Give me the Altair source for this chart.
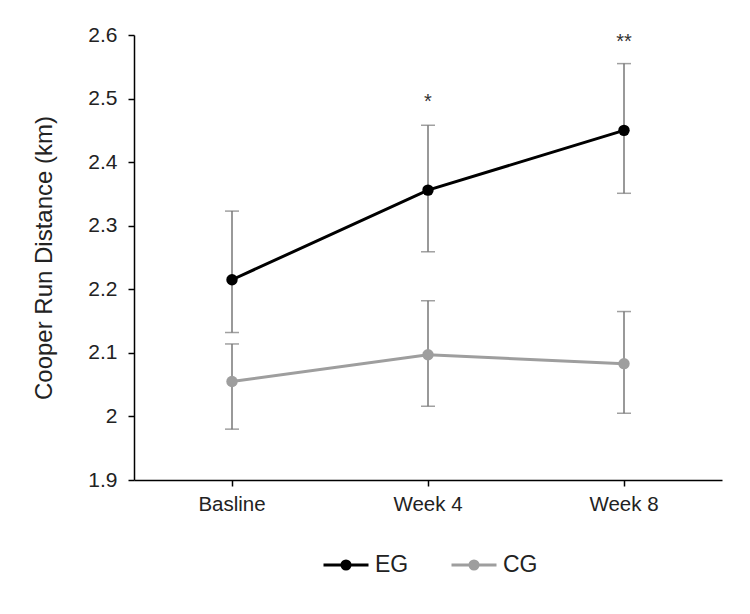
import altair as alt
import pandas as pd

# ---- data ----
times = ["Basline", "Week 4", "Week 8"]
groups = ["EG", "CG"]
eg_mean = [2.215, 2.356, 2.450]
eg_low = [2.132, 2.259, 2.351]
eg_high = [2.323, 2.458, 2.555]
cg_mean = [2.055, 2.097, 2.083]
cg_low = [1.980, 2.016, 2.005]
cg_high = [2.114, 2.182, 2.165]
star_time = ["Week 4", "Week 8"]
star_text = ["*", "**"]
star_y = [2.501, 2.595]
y_ticks = [1.9, 2.0, 2.1, 2.2, 2.3, 2.4, 2.5, 2.6]

rows = []
for g, m, lo, hi in [("EG", eg_mean, eg_low, eg_high), ("CG", cg_mean, cg_low, cg_high)]:
    for t, a, b, c in zip(times, m, lo, hi):
        rows.append({"time": t, "group": g, "mean": a, "low": b, "high": c})
df = pd.DataFrame(rows)
stars = pd.DataFrame({"time": star_time, "label": star_text, "y": star_y})

FONT = "Liberation Sans"
TXT = "#222222"

x_enc = alt.X("time:N", sort=times, title=None,
              scale=alt.Scale(paddingInner=0, paddingOuter=0),
              axis=alt.Axis(labelAngle=0, labelFontSize=20.5, labelColor=TXT, labelFont=FONT,
                            domainColor="#000000", domainWidth=1.5, tickColor="#000000",
                            tickWidth=1.5, tickSize=6, labelPadding=8, grid=False))
y_scale = alt.Scale(domain=[1.9, 2.6], nice=False, zero=False)
y_axis = alt.Axis(values=y_ticks, format="~g", title="Cooper Run Distance (km)",
                  titleFontSize=24, titleFont=FONT, titleColor=TXT, titleFontWeight="normal",
                  titlePadding=31, labelFontSize=21, labelFont=FONT, labelColor=TXT,
                  labelPadding=11, tickSize=6, tickWidth=1.5, tickColor="#000000",
                  domainColor="#000000", domainWidth=1.5, grid=False)

color_scale = alt.Scale(domain=groups, range=["#000000", "#9e9e9e"])

legend_symbol = ("M-1,0L1,0M0.18,0A0.18,0.18 0 1,1 -0.18,0"
                 "A0.18,0.18 0 1,1 0.18,0Z")
legend = alt.Legend(title=None, orient="none", direction="horizontal",
                    legendX=188, legendY=506,
                    symbolType=legend_symbol, symbolSize=2025, symbolStrokeWidth=3,
                    labelFontSize=23, labelFont=FONT, labelColor=TXT, labelOffset=5,
                    columnPadding=36)

base = alt.Chart(df)

err_rule = base.mark_rule(color="#777777", strokeWidth=1.5).encode(
    x=x_enc,
    y=alt.Y("low:Q", scale=y_scale, axis=y_axis),
    y2="high:Q",
    detail="group:N",
)
cap_low = base.mark_tick(color="#777777", thickness=1.5, size=14).encode(
    x=x_enc, y=alt.Y("low:Q", scale=y_scale), detail="group:N")
cap_high = base.mark_tick(color="#777777", thickness=1.5, size=14).encode(
    x=x_enc, y=alt.Y("high:Q", scale=y_scale), detail="group:N")

lines = base.mark_line(strokeWidth=3).encode(
    x=x_enc,
    y=alt.Y("mean:Q", scale=y_scale),
    stroke=alt.Stroke("group:N", scale=color_scale, sort=groups, legend=legend),
)
points = base.mark_point(filled=True, size=130, opacity=1).encode(
    x=x_enc,
    y=alt.Y("mean:Q", scale=y_scale),
    fill=alt.Fill("group:N", scale=color_scale, sort=groups, legend=legend),
)
star_marks = alt.Chart(stars).mark_text(fontSize=20, font=FONT, color="#333333",
                                         baseline="alphabetic", dy=9.6).encode(
    x=alt.X("time:N", sort=times),
    y=alt.Y("y:Q", scale=y_scale),
    text="label:N",
)

chart = alt.layer(err_rule, cap_low, cap_high, lines, points, star_marks).properties(
    width=588, height=445,
    autosize=alt.AutoSizeParams(type="none"),
    padding={"left": 126, "top": 27, "right": 20, "bottom": 126},
    background="white",
).configure_view(stroke=None)

chart.save("out.html", embed_options={"renderer": "svg", "actions": False})
